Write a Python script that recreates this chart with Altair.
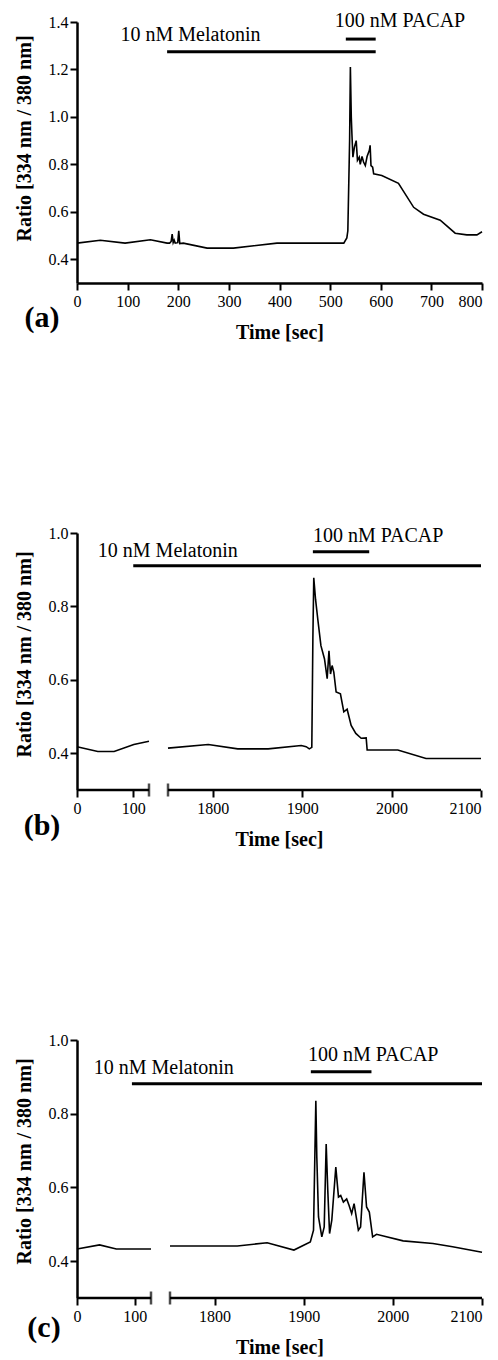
import altair as alt
import pandas as pd

FONT = "Liberation Serif"

# ---------------- Panel (a) ----------------
a_time = [0, 46, 95, 145, 178, 183, 186, 188, 190, 192, 194, 199, 201, 203, 210,
          257, 309, 395, 527, 533, 535, 538.5, 540, 541.8, 543, 545, 548, 551.5,
          554, 557.5, 559.5, 563, 566, 569.5, 573, 577.5, 579, 580.7, 584, 586,
          602, 635, 665, 684.5, 717.5, 747, 770, 790, 800]
a_ratio = [0.468, 0.480, 0.468, 0.482, 0.468, 0.468, 0.475, 0.506, 0.47, 0.48,
           0.468, 0.47, 0.52, 0.466, 0.468, 0.447, 0.447, 0.468, 0.468, 0.49,
           0.52, 0.90, 1.21, 1.0, 0.93, 0.83, 0.873, 0.90, 0.817, 0.83, 0.80,
           0.833, 0.81, 0.795, 0.833, 0.859, 0.88, 0.795, 0.788, 0.76, 0.753,
           0.72, 0.619, 0.59, 0.565, 0.51, 0.503, 0.503, 0.516]
a_xticks = [0, 100, 200, 300, 400, 500, 600, 700, 800]
a_yticks = [0.4, 0.6, 0.8, 1.0, 1.2, 1.4]
a_melatonin = [178, 590]
a_pacap = [531, 590]

# ---------------- Panel (b) ----------------
b_time_left = [0, 37, 66, 101, 128]
b_ratio_left = [0.418, 0.405, 0.405, 0.424, 0.433]
b_time_right = [1750, 1795, 1828, 1862, 1899, 1904.5, 1908, 1910.8, 1912, 1913,
                1915, 1917.5, 1921, 1925, 1928, 1930, 1931.7, 1933.5, 1935.4,
                1938, 1942.8, 1946.6, 1950.3, 1954.8, 1960, 1966, 1971.6,
                1972.7, 2007, 2038.5, 2100]
b_ratio_right = [0.414, 0.424, 0.412, 0.412, 0.421, 0.418, 0.412, 0.416, 0.711,
                 0.878, 0.819, 0.765, 0.693, 0.657, 0.603, 0.679, 0.616, 0.639,
                 0.621, 0.567, 0.562, 0.513, 0.520, 0.476, 0.454, 0.441, 0.442,
                 0.409, 0.409, 0.386, 0.386]
b_melatonin = [100, 2100]
b_pacap = [1912, 1975]

# ---------------- Panel (c) ----------------
c_time_left = [0, 39, 68, 128]
c_ratio_left = [0.433, 0.444, 0.433, 0.433]
c_time_right = [1750, 1825.5, 1859, 1889, 1907.4, 1911, 1913.6, 1914.7, 1916.6,
                1920.3, 1923, 1925.2, 1927, 1929, 1931.5, 1936, 1939, 1941.5,
                1944.5, 1948.2, 1950.9, 1953.8, 1956.5, 1961.3, 1963.8, 1967.6,
                1970.5, 1973.6, 1977.3, 1981.7, 2011.5, 2045, 2067, 2100]
c_ratio_right = [0.441, 0.441, 0.45, 0.430, 0.452, 0.484, 0.835, 0.682, 0.52,
                 0.466, 0.493, 0.718, 0.592, 0.475, 0.511, 0.655, 0.574, 0.578,
                 0.56, 0.569, 0.551, 0.529, 0.556, 0.484, 0.493, 0.641, 0.547,
                 0.533, 0.466, 0.473, 0.455, 0.448, 0.439, 0.424]
c_melatonin = [95, 2100]
c_pacap = [1908, 1976]

bc_xticks = [0, 100, 1800, 1900, 2000, 2100]
bc_yticks = [0.4, 0.6, 0.8, 1.0]
break_domain = [0, 128, 1750, 2100]   # broken time axis: 0-128 | 1750-2100
axis_segments = [[0, 128], [1750, 2100]]

MEL_LABEL = "10 nM Melatonin"
PAC_LABEL = "100 nM PACAP"


def make_panel(lines, xscale, xticks, ydom, yticks, width, height, ytitle,
               title_y, mel, mel_y, pac, pac_y, mel_tx, mel_ty, pac_tx, pac_ty,
               tag, tag_dx, tag_dy, broken):
    rows = []
    for seg, (ts, rs) in enumerate(lines):
        for t, r in zip(ts, rs):
            rows.append({"t": t, "r": r, "seg": seg})
    line_df = pd.DataFrame(rows)

    last = xticks[-1]
    x_enc = alt.X("t:Q", scale=xscale,
                  axis=alt.Axis(values=xticks, format="d", title="Time [sec]",
                                domain=not broken,
                                labelFont=FONT, labelFontSize=16, labelColor="black",
                                titleFont=FONT, titleFontSize=20, titleFontWeight="bold",
                                labelFlush=False, labelOverlap=False,
                                labelAlign={"condition": {"test": f"datum.value == {last}",
                                                          "value": "right"},
                                            "value": "center"},
                                labelPadding=3, titlePadding=13))
    y_enc = alt.Y("r:Q", scale=alt.Scale(domain=ydom, nice=False, zero=False),
                  axis=alt.Axis(values=yticks, format=".1f", title=ytitle,
                                labelFont=FONT, labelFontSize=16, labelColor="black",
                                titleFont=FONT, titleFontSize=20, titleFontWeight="bold",
                                titleY=title_y, labelPadding=2, titlePadding=14))

    layers = []
    layers.append(alt.Chart(line_df).mark_line(color="black", strokeWidth=1.6,
                                               strokeJoin="miter").encode(
        x=x_enc, y=y_enc, detail="seg:N"))

    bar_df = pd.DataFrame({"t": [mel[0], pac[0]], "t2": [mel[1], pac[1]],
                           "r": [mel_y, pac_y]})
    layers.append(alt.Chart(bar_df).mark_rule(color="black", strokeWidth=3).encode(
        x=x_enc, x2="t2:Q", y=y_enc))

    layers.append(alt.Chart(pd.DataFrame({"t": [mel_tx], "r": [mel_ty], "s": [MEL_LABEL]}))
                  .mark_text(font=FONT, fontSize=20, align="left", baseline="middle",
                             color="black")
                  .encode(x=x_enc, y=y_enc, text="s:N"))
    layers.append(alt.Chart(pd.DataFrame({"t": [pac_tx], "r": [pac_ty], "s": [PAC_LABEL]}))
                  .mark_text(font=FONT, fontSize=20, align="center", baseline="middle",
                             color="black")
                  .encode(x=x_enc, y=y_enc, text="s:N"))

    if broken:
        seg_df = pd.DataFrame({"t": [s[0] for s in axis_segments],
                               "t2": [s[1] for s in axis_segments],
                               "r": [ydom[0]] * len(axis_segments)})
        layers.append(alt.Chart(seg_df).mark_rule(color="black", strokeWidth=2.5).encode(
            x=x_enc, x2="t2:Q", y=y_enc))
        cap_df = pd.DataFrame({"t": [axis_segments[0][1], axis_segments[1][0]],
                               "r": [ydom[0], ydom[0]]})
        layers.append(alt.Chart(cap_df).mark_tick(color="black", orient="vertical",
                                                  size=13, thickness=2.5).encode(
            x=x_enc, y=y_enc))

    layers.append(alt.Chart(pd.DataFrame({"s": [tag]}))
                  .mark_text(font=FONT, fontSize=30, fontWeight="bold", align="center",
                             baseline="middle", color="black",
                             x=tag_dx, y=height + tag_dy)
                  .encode(text="s:N"))

    return alt.layer(*layers).properties(width=width, height=height)


pa = make_panel(
    [(a_time, a_ratio)],
    alt.Scale(domain=[0, 800], nice=False, zero=False),
    a_xticks, [0.3, 1.4], a_yticks, 405, 261,
    "Ratio [334 nm / 380 nm]", 116,
    a_melatonin, 1.275, a_pacap, 1.328,
    86, 1.346, 638, 1.403,
    "(a)", -35, 35, False)

pb = make_panel(
    [(b_time_left, b_ratio_left), (b_time_right, b_ratio_right)],
    alt.Scale(domain=break_domain, range=[0, 72, 91, 404], nice=False, zero=False),
    bc_xticks, [0.3, 1.0], bc_yticks, 405, 257,
    "Ratio [334 nm / 380 nm]", 121,
    b_melatonin, 0.911, b_pacap, 0.949,
    37, 0.951, 1985, 0.992,
    "(b)", -35, 36, True)

pc = make_panel(
    [(c_time_left, c_ratio_left), (c_time_right, c_ratio_right)],
    alt.Scale(domain=break_domain, range=[0, 74, 93, 405], nice=False, zero=False),
    bc_xticks, [0.3, 1.0], bc_yticks, 405, 258,
    "Ratio  [334 nm / 380 nm]", 121,
    c_melatonin, 0.881, c_pacap, 0.914,
    29, 0.924, 1978, 0.959,
    "(c)", -33, 30, True)

chart = alt.vconcat(pa, pb, pc, spacing=250, bounds="flush").configure_view(
    stroke=None
).configure_axis(
    grid=False,
    domainColor="black", domainWidth=2.5,
    tickColor="black", tickWidth=2, tickSize=7,
    labelFont=FONT, labelFontSize=16, labelColor="black",
    titleFont=FONT, titleFontSize=20, titleFontWeight="bold", titleColor="black",
).properties(background="white", padding={"left": 6, "top": 3, "right": 0, "bottom": 5})

chart.save("out.html", embed_options={"renderer": "svg", "actions": False})
